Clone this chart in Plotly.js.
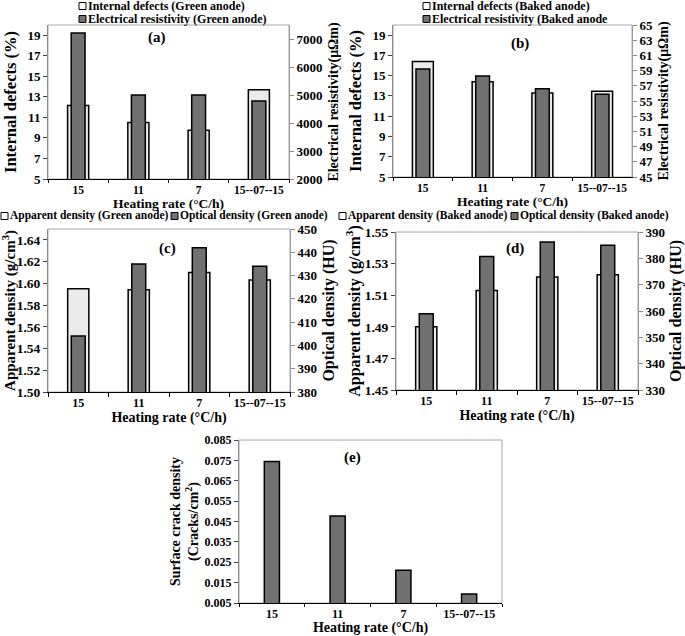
<!DOCTYPE html>
<html><head><meta charset="utf-8">
<script src="https://cdn.plot.ly/plotly-3.0.1.min.js"></script>
<style>html,body{margin:0;padding:0;background:#fff}#chart{width:685px;height:636px}</style>
</head><body><div id="chart"></div>
<script>
// ---------- data ----------
const categories = ['15', '11', '7', '15--07--15'];
const greenDefects = [12.15, 10.5, 9.75, 13.7];          // Internal defects (%) green
const greenResistivity = [7215, 5000, 5000, 4790];        // µΩm green
const bakedDefects = [16.4, 14.4, 13.3, 13.45];           // Internal defects (%) baked
const bakedResistivity = [59.2, 58.3, 56.6, 55.9];        // µΩm baked
const greenApparent = [1.595, 1.594, 1.610, 1.603];       // g/cm3 green
const greenOptical = [404, 435, 442, 434];                // HU green
const bakedApparent = [1.490, 1.513, 1.5215, 1.523];      // g/cm3 baked
const bakedOptical = [359, 380.7, 386.2, 385];            // HU baked
const crackDensity = [0.0745, 0.0477, 0.0211, 0.0094];    // cracks/cm2

const W = 685, H = 636;
const F = 'Liberation Serif, Times New Roman, serif';
const tf = (s) => ({family: F, size: s, color: '#000', weight: 'bold'});
const px = (v) => v / W;
const py = (v) => 1 - v / H;

const LIGHT = '#ebebeb', DARK = '#717171';
function bar(x, y, xa, ya, w, color, name) {
  return {type: 'bar', x: x, y: y, xaxis: xa, yaxis: ya, width: w, name: name,
    showlegend: false, hoverinfo: 'x+y',
    marker: {color: color, line: {color: '#000', width: 1.5}}};
}

const data = [
  bar(categories, greenDefects, 'x', 'y', 0.35, LIGHT, 'Internal defects (Green anode)'),
  bar(categories, greenResistivity, 'x', 'y2', 0.23, DARK, 'Electrical resistivity (Green anode)'),
  bar(categories, bakedDefects, 'x2', 'y3', 0.35, LIGHT, 'Internal defects (Baked anode)'),
  bar(categories, bakedResistivity, 'x2', 'y4', 0.23, DARK, 'Electrical resistivity (Baked anode'),
  bar(categories, greenApparent, 'x3', 'y5', 0.35, LIGHT, 'Apparent density (Green anode)'),
  bar(categories, greenOptical, 'x3', 'y6', 0.23, DARK, 'Optical density (Green anode)'),
  bar(categories, bakedApparent, 'x4', 'y7', 0.35, LIGHT, 'Apparent density (Baked anode)'),
  bar(categories, bakedOptical, 'x4', 'y8', 0.23, DARK, 'Optical density (Baked anode)'),
  bar(categories, crackDensity, 'x5', 'y9', 0.23, DARK, 'Surface crack density')
];

function xax(d0, d1, anchor, tick, title, titleSize, standoff, tlen) {
  return {domain: [px(d0), px(d1)], anchor: anchor, type: 'category', range: [-0.5, 3.5],
    tickson: 'boundaries', ticks: 'outside', ticklen: tlen || 4, tickcolor: '#000', tickangle: 0,
    showline: true, linecolor: '#000', linewidth: 1, showgrid: false, zeroline: false,
    tickfont: tf(tick), title: {text: title, font: tf(titleSize), standoff: standoff}};
}
function yax(top, bot, anchor, range, tick0, dtick, tick, title, titleSize, standoff, fmt) {
  return {domain: [py(bot), py(top)], anchor: anchor, range: range, tick0: tick0, dtick: dtick,
    ticks: 'outside', ticklen: 4, tickcolor: '#444', showline: true, linecolor: '#8a8a8a',
    showgrid: false, zeroline: false, tickfont: tf(tick), tickformat: fmt || '',
    title: {text: title, font: tf(titleSize), standoff: standoff}};
}
function yax2(over, anchor, range, tick0, dtick, tick, title, titleSize, standoff, fmt) {
  return {overlaying: over, side: 'right', anchor: anchor, range: range, tick0: tick0, dtick: dtick,
    ticks: 'outside', ticklen: 4, tickcolor: '#8a8a8a', showline: true, linecolor: '#9a9a9a',
    showgrid: false, zeroline: false, tickfont: tf(tick), tickformat: fmt || '',
    title: {text: title, font: tf(titleSize), standoff: standoff}};
}

const HR = 'Heating rate (°C/h)';
const layout = {
  width: W, height: H, margin: {l: 0, r: 0, t: 0, b: 0},
  paper_bgcolor: '#fff', plot_bgcolor: 'rgba(0,0,0,0)', barmode: 'overlay', showlegend: false,
  font: {family: F, color: '#000'},
  xaxis: xax(48, 289, 'y', 11.5, HR, 13.5, 0, 3),
  yaxis: yax(25, 179, 'x', [5, 20], 5, 2, 13, 'Internal defects (%)', 16.5, 6),
  yaxis2: yax2('y', 'x', [2000, 7500], 2000, 1000, 13, 'Electrical resistivity(μΩm)', 14, 6),
  xaxis2: xax(393, 632, 'y3', 11.5, HR, 13.5, 0, 3),
  yaxis3: yax(25, 177, 'x2', [5, 20], 5, 2, 13, 'Internal defects (%)', 16.5, 6),
  yaxis4: yax2('y3', 'x2', [45, 65], 45, 2, 13, 'Electrical resistivity(μΩm)', 14, 6),
  xaxis3: xax(48, 290, 'y5', 12, HR, 14, 2),
  yaxis5: yax(229, 392, 'x3', [1.50, 1.65], 1.50, 0.02, 13.5, 'Apparent density (g/cm<sup>3</sup>)', 15, 4, '.2f'),
  yaxis6: yax2('y5', 'x3', [380, 450], 380, 10, 13, 'Optical density (HU)', 16, 6),
  xaxis4: xax(396, 638, 'y7', 12, HR, 14, 2),
  yaxis7: yax(232, 390, 'x4', [1.45, 1.55], 1.45, 0.02, 13.5, 'Apparent density (g/cm<sup>3</sup>)', 16, 0, '.2f'),
  yaxis8: yax2('y7', 'x4', [330, 390], 330, 10, 13, 'Optical density (HU)', 16, 6),
  xaxis5: xax(239, 502, 'y9', 12, HR, 14, 4, 3),
  yaxis9: yax(440, 603, 'x5', [0.005, 0.085], 0.005, 0.01, 12, 'Surface crack density<br>(Cracks/cm<sup>2</sup>)', 14, 2, '.3f'),
  shapes: [], annotations: []
};

// frames (light gray border round each plot area)
[['x', 'y'], ['x2', 'y3'], ['x3', 'y5'], ['x4', 'y7'], ['x5', 'y9']].forEach(([xa, ya]) => {
  layout.shapes.push({type: 'rect', xref: xa + ' domain', yref: ya + ' domain', x0: 0, x1: 1, y0: 0, y1: 1,
    line: {color: '#a8a8a8', width: 1}, fillcolor: 'rgba(0,0,0,0)', layer: 'below'});
});

// panel letters
[['(a)', 157, 37], ['(b)', 520, 43], ['(c)', 167, 248], ['(d)', 515, 248], ['(e)', 353, 457]].forEach(([t, x, y]) => {
  layout.annotations.push({text: t, x: px(x), y: py(y), xref: 'paper', yref: 'paper', showarrow: false,
    font: tf(15), xanchor: 'center', yanchor: 'middle'});
});

// legend keys (swatch + label)
function key(label, fill, x, y, size) {
  const s = 7;
  layout.shapes.push({type: 'rect', xref: 'paper', yref: 'paper', x0: px(x), x1: px(x + s),
    y0: py(y + s / 2), y1: py(y - s / 2), fillcolor: fill, line: {color: '#000', width: 1}, layer: 'above'});
  layout.annotations.push({text: label, x: px(x + s + 1), y: py(y), xref: 'paper', yref: 'paper',
    showarrow: false, xanchor: 'left', yanchor: 'middle', font: tf(size), borderpad: 0});
}
key('Internal defects (Green anode)', '#fff', 79, 6, 12);
key('Electrical resistivity (Green anode)', DARK, 79, 19, 12);
key('Internal defects (Baked anode)', '#fff', 423, 6, 12);
key('Electrical resistivity (Baked anode', DARK, 423, 19, 12);
key('Apparent density (Green anode)', '#fff', 1, 216, 11.5);
key('Optical density (Green anode)', DARK, 171, 216, 11.5);
key('Apparent density (Baked anode)', '#fff', 339, 216, 11.5);
key('Optical density (Baked anode)', DARK, 511, 216, 11.5);

Plotly.newPlot('chart', data, layout, {staticPlot: true});
</script></body></html>
